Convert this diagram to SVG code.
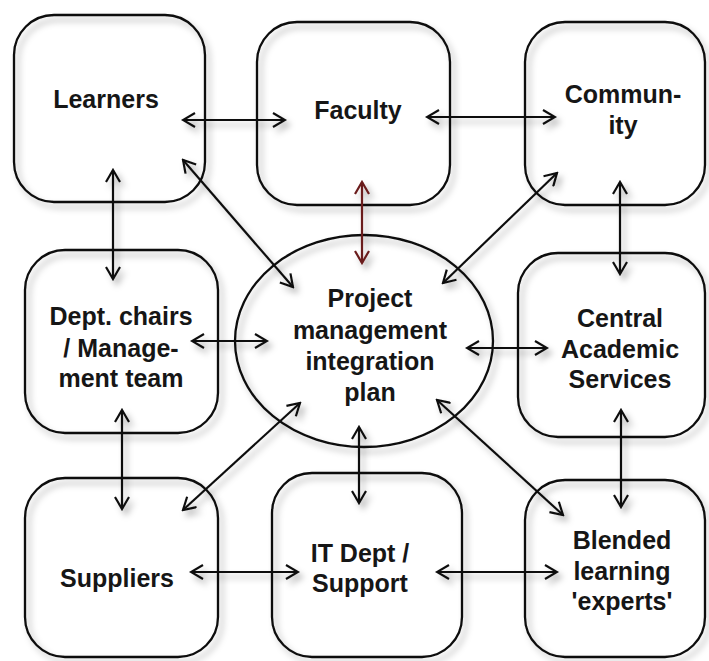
<svg xmlns="http://www.w3.org/2000/svg" width="709" height="661" viewBox="0 0 709 661">
  <style>
    .box { fill: none; stroke: #111; stroke-width: 2.3; filter: url(#shadow); }
    .lbl { font-family: "Liberation Sans", Arial, sans-serif; font-weight: bold; font-size: 25px; fill: #161616; text-anchor: middle; }
    .link { fill: none; stroke: #111; stroke-width: 2.2; marker-start: url(#head); marker-end: url(#head); }
    .link.red { stroke: #6b1c1c; marker-start: url(#headRed); marker-end: url(#headRed); }
  </style>
  <defs>
    <filter id="shadow" x="-10%" y="-10%" width="130%" height="130%">
      <feDropShadow dx="4" dy="5" stdDeviation="3" flood-color="#000" flood-opacity="0.3"/>
    </filter>
    <marker id="head" viewBox="0 0 16 16" refX="14" refY="8" markerWidth="16" markerHeight="16" markerUnits="userSpaceOnUse" orient="auto-start-reverse">
      <path d="M2,1 L14,8 L2,15" fill="none" stroke="#111" stroke-width="2.2"/>
    </marker>
    <marker id="headRed" viewBox="0 0 16 16" refX="14" refY="8" markerWidth="16" markerHeight="16" markerUnits="userSpaceOnUse" orient="auto-start-reverse">
      <path d="M2,1 L14,8 L2,15" fill="none" stroke="#6b1c1c" stroke-width="2.2"/>
    </marker>
  </defs>
  <rect width="709" height="661" fill="#fff"/>

  <g id="nodes">
    <g id="learners">
      <rect class="box" x="14" y="15" width="191" height="187" rx="40"/>
      <text class="lbl" x="106" y="108">Learners</text>
    </g>
    <g id="faculty">
      <rect class="box" x="257" y="22" width="193" height="183" rx="40"/>
      <text class="lbl" x="358" y="119">Faculty</text>
    </g>
    <g id="community">
      <rect class="box" x="525" y="22" width="180" height="183" rx="40"/>
      <text class="lbl" x="623" y="103">Commun-</text>
      <text class="lbl" x="623" y="134">ity</text>
    </g>
    <g id="dept-chairs">
      <rect class="box" x="25" y="250" width="193" height="183" rx="40"/>
      <text class="lbl" x="121" y="325">Dept. chairs</text>
      <text class="lbl" x="121" y="357">/ Manage-</text>
      <text class="lbl" x="121" y="387">ment team</text>
    </g>
    <g id="plan">
      <ellipse class="box" cx="364" cy="341" rx="129" ry="106"/>
      <text class="lbl" x="370" y="307">Project</text>
      <text class="lbl" x="370" y="339">management</text>
      <text class="lbl" x="370" y="370">integration</text>
      <text class="lbl" x="370" y="401">plan</text>
    </g>
    <g id="central-academic">
      <rect class="box" x="518" y="253" width="187" height="184" rx="40"/>
      <text class="lbl" x="620" y="327">Central</text>
      <text class="lbl" x="620" y="358">Academic</text>
      <text class="lbl" x="620" y="388">Services</text>
    </g>
    <g id="suppliers">
      <rect class="box" x="25" y="478" width="193" height="179" rx="40"/>
      <text class="lbl" x="117" y="587">Suppliers</text>
    </g>
    <g id="it-dept">
      <rect class="box" x="272" y="473" width="190" height="184" rx="40"/>
      <text class="lbl" x="360" y="562">IT Dept /</text>
      <text class="lbl" x="360" y="592">Support</text>
    </g>
    <g id="blended">
      <rect class="box" x="525" y="480" width="180" height="177" rx="40"/>
      <text class="lbl" x="622" y="549">Blended</text>
      <text class="lbl" x="622" y="580">learning</text>
      <text class="lbl" x="622" y="610">'experts'</text>
    </g>
  </g>

  <g id="connectors" filter="url(#shadow)">
    <line class="link" x1="183" y1="120" x2="285" y2="120"/>
    <line class="link" x1="427" y1="117" x2="555" y2="117"/>
    <line class="link" x1="113" y1="170" x2="113" y2="279"/>
    <line class="link" x1="122" y1="410" x2="122" y2="509"/>
    <line class="link" x1="620" y1="182" x2="620" y2="274"/>
    <line class="link" x1="621" y1="410" x2="621" y2="507"/>
    <line class="link" x1="191" y1="572" x2="298" y2="572"/>
    <line class="link" x1="437" y1="572" x2="557" y2="572"/>
    <line class="link red" x1="362" y1="182" x2="362" y2="263"/>
    <line class="link" x1="192" y1="341" x2="267" y2="341"/>
    <line class="link" x1="467" y1="348" x2="547" y2="348"/>
    <line class="link" x1="359" y1="427" x2="359" y2="503"/>
    <line class="link" x1="183" y1="160" x2="293" y2="287"/>
    <line class="link" x1="557" y1="173" x2="443" y2="283"/>
    <line class="link" x1="183" y1="510" x2="300" y2="403"/>
    <line class="link" x1="437" y1="400" x2="563" y2="515"/>
  </g>
</svg>
